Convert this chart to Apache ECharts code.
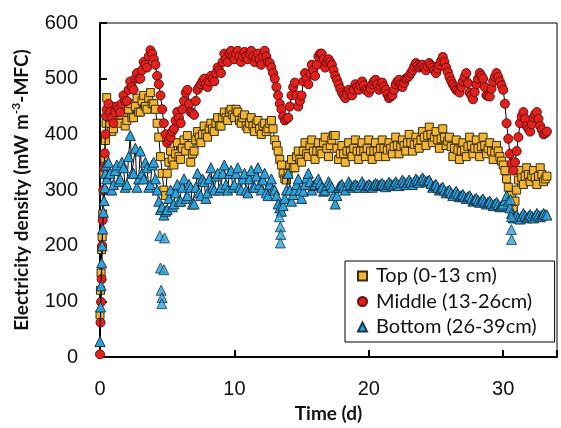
<!DOCTYPE html>
<html><head><meta charset="utf-8">
<script src="https://cdn.jsdelivr.net/npm/echarts@6/dist/echarts.min.js"></script>
<style>html,body{margin:0;padding:0;background:#fff}#c{width:561px;height:428px}</style>
</head><body><div id="c"></div>
<script>
const timeDays = [0,0.04,0.08,0.12,0.16,0.2,0.25,0.3,0.35,0.4,0.45,
0.5,0.625,0.75,0.875,
1,1.125,1.25,1.375,1.5,1.625,1.75,1.875,
2,2.125,2.25,2.375,2.5,2.625,2.75,2.875,
3,3.125,3.25,3.375,3.5,3.625,3.75,3.875,
4,4.125,4.25,4.375,4.5,4.625,4.75,4.875,
5,5.125,5.25,5.375,5.5,5.625,5.75,5.875,
6,6.125,6.25,6.375,6.5,6.625,6.75,6.875,
7,7.125,7.25,7.375,7.5,7.625,7.75,7.875,
8,8.125,8.25,8.375,8.5,8.625,8.75,8.875,
9,9.125,9.25,9.375,9.5,9.625,9.75,9.875,
10,10.125,10.25,10.375,10.5,10.625,10.75,10.875,
11,11.125,11.25,11.375,11.5,11.625,11.75,11.875,
12,12.125,12.25,12.375,12.5,12.625,12.75,12.875,
13,13.125,13.25,13.375,13.5,13.625,13.75,13.875,
14,14.125,14.25,14.375,14.5,14.625,14.75,14.875,
15,15.125,15.25,15.375,15.5,15.625,15.75,15.875,
16,16.125,16.25,16.375,16.5,16.625,16.75,16.875,
17,17.125,17.25,17.375,17.5,17.625,17.75,17.875,
18,18.125,18.25,18.375,18.5,18.625,18.75,18.875,
19,19.125,19.25,19.375,19.5,19.625,19.75,19.875,
20,20.125,20.25,20.375,20.5,20.625,20.75,20.875,
21,21.125,21.25,21.375,21.5,21.625,21.75,21.875,
22,22.125,22.25,22.375,22.5,22.625,22.75,22.875,
23,23.125,23.25,23.375,23.5,23.625,23.75,23.875,
24,24.125,24.25,24.375,24.5,24.625,24.75,24.875,
25,25.125,25.25,25.375,25.5,25.625,25.75,25.875,
26,26.125,26.25,26.375,26.5,26.625,26.75,26.875,
27,27.125,27.25,27.375,27.5,27.625,27.75,27.875,
28,28.125,28.25,28.375,28.5,28.625,28.75,28.875,
29,29.125,29.25,29.375,29.5,29.625,29.75,29.875,
30,30.125,30.25,30.375,30.5,30.625,30.75,30.875,
31,31.125,31.25,31.375,31.5,31.625,31.75,31.875,
32,32.125,32.25,32.375,32.5,32.625,32.75,32.875,
33,33.125,33.25];

const topVals = [76,120,151,193,216,257,299,331,357,389,420,
466,440,430,405,
410,440,450,425,420,435,445,415,
425,445,455,430,430,450,465,440,
440,460,470,450,445,465,475,455,
455,445,420,395,360,330,300,290,
330,350,370,355,345,365,385,360,
355,375,390,370,398,380,350,365,
370,390,405,395,385,400,415,400,
395,410,420,410,405,420,430,415,
415,430,440,430,425,440,445,435,
430,445,440,425,420,430,435,415,
410,420,430,415,405,420,425,410,
400,415,420,405,410,420,425,410,
390,380,370,355,345,330,320,318,
330,345,355,340,340,360,370,355,
350,370,385,365,360,380,390,370,
355,370,385,370,365,385,395,375,
360,380,390,398,398,375,355,365,
380,365,350,370,385,370,360,375,
390,370,355,370,385,370,360,375,
390,370,355,370,385,370,360,375,
390,375,360,372,385,375,365,378,
395,380,365,378,390,380,370,385,
400,385,370,382,395,385,375,390,
405,395,380,398,413,400,385,395,
405,390,375,392,410,395,380,388,
395,378,360,375,390,372,355,370,
385,372,360,378,395,380,365,375,
390,375,360,378,395,380,365,375,
385,370,355,368,380,370,360,352,
345,335,320,305,290,275,265,280,
300,318,335,322,310,325,340,328,
315,325,335,322,310,325,340,328,
315,320,325];

const middleVals = [5,62,99,140,200,246,300,340,366,400,433,
445,455,440,430,
420,440,450,445,440,455,470,460,
460,480,495,485,480,500,510,500,
500,515,530,525,520,540,551,545,
535,525,505,490,470,445,420,400,
385,390,395,405,410,425,440,430,
420,445,460,475,480,455,440,438,
435,460,480,485,490,495,500,490,
485,495,505,500,495,510,520,515,
510,530,545,535,530,545,550,540,
535,545,550,540,530,540,548,540,
535,545,550,540,530,538,545,535,
525,540,550,540,530,528,520,510,
500,485,470,455,445,432,425,428,
430,450,470,485,493,470,450,460,
470,495,510,500,490,510,525,515,
505,525,540,545,545,535,520,530,
535,530,525,515,505,498,490,482,
475,470,465,472,480,475,470,480,
490,485,480,488,495,488,480,478,
475,482,490,495,498,490,480,486,
493,486,480,472,465,468,470,480,
490,495,498,490,485,492,500,502,
505,510,515,522,528,524,520,522,
525,520,515,522,528,524,520,515,
510,518,525,532,539,530,520,512,
503,496,490,485,480,478,475,485,
495,503,510,492,475,470,463,476,
490,500,510,505,500,485,470,469,
468,482,495,503,510,503,495,488,
480,455,420,392,365,348,335,350,
370,395,420,432,440,428,415,410,
405,418,430,436,440,428,415,408,
400,402,405];

const bottomVals = [28,90,128,169,200,230,260,281,304,330,345,
320,350,330,300,
310,335,345,315,320,350,340,305,
310,360,398,330,330,375,305,320,
370,330,320,350,340,305,310,345,
350,320,300,280,265,270,255,262,
265,285,300,270,275,295,310,280,
280,305,320,285,290,310,305,275,
275,305,330,295,290,320,315,285,
295,320,340,305,300,325,330,300,
305,330,345,310,300,330,335,305,
310,330,340,305,300,320,330,300,
295,320,335,305,305,325,340,310,
300,318,330,295,290,310,320,300,
300,290,275,268,262,272,285,300,
330,300,280,292,300,310,320,300,
285,298,310,322,330,315,300,308,
310,315,320,312,305,298,300,308,
315,310,305,290,275,290,305,308,
310,305,300,308,315,310,305,308,
310,308,305,310,315,310,305,308,
310,308,305,309,312,310,308,310,
312,309,306,310,314,311,308,311,
315,311,308,313,318,314,310,314,
318,314,310,315,320,317,314,318,
322,318,315,316,318,312,305,308,
310,305,300,303,305,300,295,298,
300,295,290,294,298,293,288,290,
292,288,285,288,290,285,280,283,
285,281,278,281,284,279,275,278,
280,276,272,275,278,274,270,272,
275,282,290,280,268,258,250,252,
255,250,248,253,258,254,250,253,
256,253,250,254,258,255,252,255,
258,256,255];

const bottomDipTimes = [4.45,4.8,4.5,4.75,4.55,4.62,4.6, 13.35,13.42,13.45,13.42, 30.55,30.62,30.6,30.62];
const bottomDipVals  = [218,214,160,157,120,107,96, 252,234,220,205, 283,252,229,211];

const seriesNames = ['Top (0-13 cm)','Middle (13-26cm)','Bottom (26-39cm)'];
const xTickValues = [0,10,20,30];

function pairs(t, v){ return t.map((x,i)=>[x, v[i]]); }

const topStyle = {color:'#F2B632', borderColor:'#3a2c08', borderWidth:1};
const midStyle = {color:'#E0221E', borderColor:'#6e0b0b', borderWidth:1};
const botStyle = {color:'#2EA3DA', borderColor:'#183650', borderWidth:1};
const lineSt = {color:'#000', width:1};

const chart = echarts.init(document.getElementById('c'), null, {renderer:'canvas'});
chart.setOption({
  animation:false,
  backgroundColor:'#fff',
  grid:{left:100,right:4,top:23,bottom:65,show:true,borderColor:'#000',borderWidth:1},
  xAxis:{type:'value',min:0,max:34,interval:10,
    axisLine:{show:true,onZero:false,lineStyle:{color:'#000',width:2}},
    axisTick:{show:true,inside:true,length:7,lineStyle:{color:'#000',width:2}},
    axisLabel:{fontFamily:'Liberation Sans',fontSize:20,color:'#111',margin:22,
      formatter:v=>xTickValues.indexOf(v)>=0?String(v):''},
    splitLine:{show:false},
    name:'Time (d)',nameLocation:'middle',nameGap:37,
    nameTextStyle:{fontFamily:'Lato',fontWeight:'bold',fontSize:19,color:'#111'}},
  yAxis:{type:'value',min:0,max:600,interval:100,
    axisLine:{show:true,lineStyle:{color:'#000',width:2}},
    axisTick:{show:true,inside:true,length:7,lineStyle:{color:'#000',width:2}},
    axisLabel:{fontFamily:'Liberation Sans',fontSize:20,color:'#111',margin:22},
    splitLine:{show:false},
    name:'{a|Electricity density (mW m}{s|-3}{a|-MFC)}',nameLocation:'middle',nameGap:66,
    nameTextStyle:{rich:{
      a:{fontFamily:'Lato',fontWeight:'bold',fontSize:19,color:'#111',lineHeight:24},
      s:{fontFamily:'Lato',fontWeight:'bold',fontSize:12,color:'#111',lineHeight:12,verticalAlign:'top'}}}},
  legend:{orient:'vertical',left:345,top:261,padding:[5,18,5,12],itemGap:5.5,itemWidth:9,itemHeight:9,
    borderColor:'#000',borderWidth:1,backgroundColor:'#fff',
    textStyle:{fontFamily:'Lato',fontSize:20,color:'#111',lineHeight:20,padding:[0,0,0,4]},
    data:[{name:seriesNames[0],icon:'rect'},{name:seriesNames[1],icon:'circle'},{name:seriesNames[2],icon:'triangle'}]},
  series:[
    {name:seriesNames[0],type:'line',data:pairs(timeDays,topVals),symbol:'rect',symbolSize:8,showSymbol:true,showAllSymbol:true,
      lineStyle:lineSt,itemStyle:topStyle,z:2},
    {name:seriesNames[1],type:'line',data:pairs(timeDays,middleVals),symbol:'circle',symbolSize:9,showSymbol:true,showAllSymbol:true,
      lineStyle:lineSt,itemStyle:midStyle,z:3},
    {name:seriesNames[2],type:'line',data:pairs(timeDays,bottomVals),symbol:'triangle',symbolSize:10,showSymbol:true,showAllSymbol:true,
      lineStyle:lineSt,itemStyle:botStyle,z:4},
    {name:'Bottom dips',type:'scatter',data:pairs(bottomDipTimes,bottomDipVals),symbol:'triangle',symbolSize:10,
      itemStyle:botStyle,z:4}
  ]
});
</script></body></html>
